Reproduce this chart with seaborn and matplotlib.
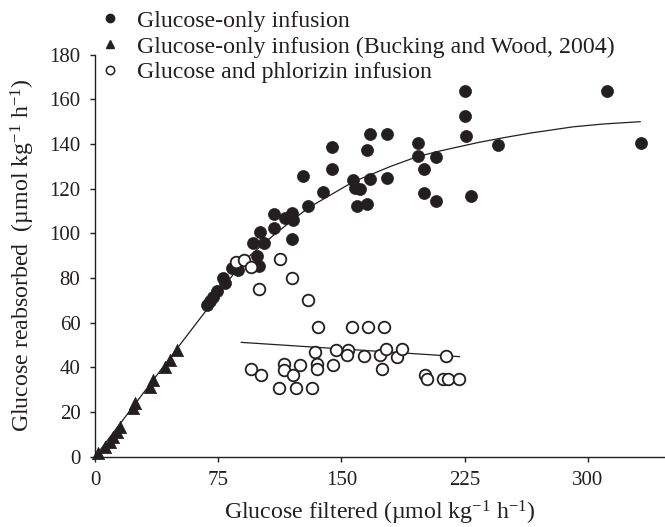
import matplotlib
matplotlib.use("Agg")
import matplotlib.pyplot as plt
import seaborn as sns
from matplotlib.lines import Line2D

# ---- data ----
glc_x = [225.2, 225.2, 225.6, 245.5, 311.8, 332.1,
         167.4, 177.5, 196.4, 196.4, 207.7, 144.4, 165.7, 144.4, 126.4, 200.4,
         167.4, 177.5, 157.2, 158.5, 161.3, 138.9, 200.4, 207.7, 228.7, 159.3,
         165.7, 129.9, 119.7, 115.6, 120.7, 108.9, 108.9, 100.4, 119.7, 96.4,
         102.9, 98.6, 99.9, 83.5, 87.0, 77.7, 79.0, 74.0, 72.0, 70.0, 68.0]
glc_y = [163.8, 152.6, 143.7, 139.5, 163.7, 140.6,
         144.4, 144.4, 140.3, 134.7, 134.3, 138.8, 137.3, 128.8, 125.6, 128.8,
         124.3, 124.9, 123.9, 120.3, 119.8, 118.3, 118.2, 114.3, 116.7, 112.4,
         113.1, 112.2, 109.0, 106.7, 106.0, 108.6, 102.2, 100.5, 97.4, 95.5,
         95.8, 89.7, 85.6, 84.3, 83.5, 79.9, 77.6, 74.2, 71.3, 69.5, 67.9]

bw_x = [49.7, 45.6, 42.6, 35.5, 33.5, 24.3, 23.3, 15.2, 13.2, 11.1, 9.1, 6.1, 2.0]
bw_y = [47.8, 43.3, 40.3, 34.3, 31.3, 23.9, 21.7, 13.4, 11.2, 9.0, 6.7, 4.5, 1.5]

phl_x = [85.8, 90.7, 95.2, 112.8, 119.7, 99.7, 129.5, 135.9, 156.2, 165.9, 175.9,
         134.0, 146.7, 154.2, 153.2, 163.7, 173.5, 177.1, 183.7, 186.7, 213.6,
         94.9, 100.8, 115.2, 115.2, 120.7, 124.8, 134.9, 134.9, 145.0, 174.9,
         112.2, 122.3, 132.2, 200.9, 201.9, 211.6, 215.0, 221.7]
phl_y = [87.0, 88.0, 84.8, 88.5, 79.9, 75.0, 70.1, 58.2, 58.2, 58.2, 58.2,
         47.0, 47.8, 47.8, 45.5, 45.1, 45.5, 48.1, 44.8, 48.1, 45.1,
         39.3, 36.6, 41.5, 38.8, 36.6, 41.0, 41.5, 39.3, 41.0, 39.3,
         30.6, 30.6, 30.6, 36.6, 34.6, 34.6, 34.6, 34.6]

fit_x = [0, 25, 50, 75, 86, 95, 110, 130, 157, 180, 196, 210, 234, 250, 265, 291, 310, 332]
fit_y = [0, 24.2, 48.5, 72.5, 83.5, 90.5, 100, 111.5, 123, 130, 134.3, 136.9, 140.8,
         143, 144.9, 147.7, 149, 150]

phl_fit_x = [88.9, 222.0]
phl_fit_y = [51.2, 44.8]

labels = ["Glucose-only infusion",
          "Glucose-only infusion (Bucking and Wood, 2004)",
          "Glucose and phlorizin infusion"]
x_ticks = [0, 75, 150, 225, 300]
y_ticks = list(range(0, 181, 20))

# ---- styling ----
sns.set_theme(style="white")
plt.rcParams["font.family"] = ["Liberation Serif", "DejaVu Serif"]
plt.rcParams["mathtext.fontset"] = "custom"
plt.rcParams["mathtext.rm"] = "Liberation Serif"
plt.rcParams["mathtext.it"] = "Liberation Serif:italic"

INK = "#231f20"
W, H = 665, 527
fig = plt.figure(figsize=(W / 100, H / 100), dpi=100)
ax = fig.add_axes([95 / W, (H - 456.7) / H, (W - 95) / W, (456.7 - 54.7) / H])

fs_tick = 15
fs_lab = 17.2

sns.lineplot(x=fit_x, y=fit_y, ax=ax, color=INK, lw=0.9, estimator=None, sort=False)
sns.lineplot(x=phl_fit_x, y=phl_fit_y, ax=ax, color=INK, lw=0.9, estimator=None, sort=False)

sns.scatterplot(x=glc_x, y=glc_y, ax=ax, marker="o", s=75, color=INK,
                edgecolor=INK, linewidth=0.5, clip_on=False, zorder=3)
sns.scatterplot(x=bw_x, y=bw_y, ax=ax, marker="^", s=78, color=INK,
                edgecolor=INK, linewidth=0.5, clip_on=False, zorder=3)
sns.scatterplot(x=phl_x, y=phl_y, ax=ax, marker="o", s=70, facecolor="white",
                edgecolor=INK, linewidth=1.3, clip_on=False, zorder=3)

ax.set_xlim(0, 347)
ax.set_ylim(0, 180)
ax.set_xticks(x_ticks)
ax.set_yticks(y_ticks)
ax.tick_params(axis="both", direction="out", length=3.5, width=1, color=INK,
               labelsize=fs_tick, pad=7, bottom=True, left=True, labelcolor=INK)
for side in ["top", "right"]:
    ax.spines[side].set_visible(False)
for side in ["left", "bottom"]:
    ax.spines[side].set_color(INK)
    ax.spines[side].set_linewidth(1)

ax.set_xlabel(r"Glucose filtered (µmol kg$^{-1}$ h$^{-1}$)", fontsize=fs_lab,
              labelpad=6, color=INK)
ax.set_ylabel(r"Glucose reabsorbed  (µmol kg$^{-1}$ h$^{-1}$)", fontsize=fs_lab,
              labelpad=9, color=INK)

handles = [
    Line2D([], [], ls="none", marker="o", markersize=6, color=INK),
    Line2D([], [], ls="none", marker="^", markersize=6, color=INK),
    Line2D([], [], ls="none", marker="o", markersize=6, markerfacecolor="white",
           markeredgecolor=INK, markeredgewidth=1.1),
]
leg = fig.legend(handles, labels, loc="upper left", bbox_to_anchor=(98 / W, 1 - 10 / H),
                 frameon=False, fontsize=fs_lab, labelspacing=0.17, handletextpad=0.64,
                 handlelength=1.0, borderpad=0, borderaxespad=0)
for t in leg.get_texts():
    t.set_color(INK)

fig.savefig("out.png", dpi=100)
